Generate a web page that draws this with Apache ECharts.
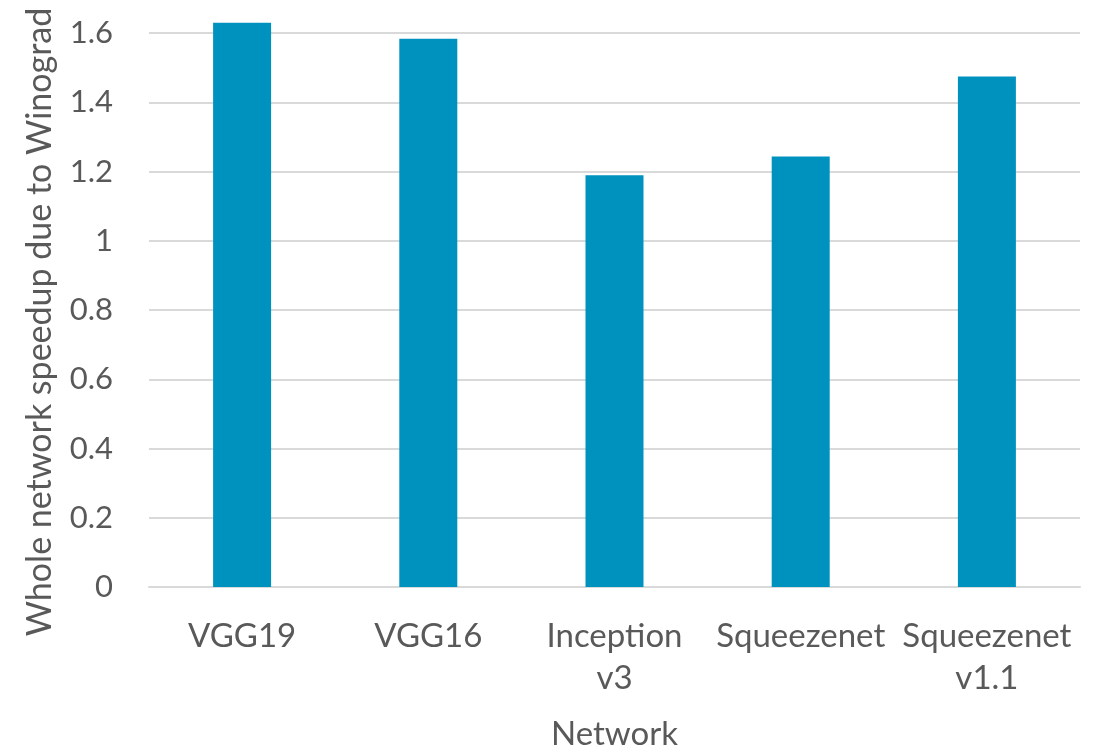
<!DOCTYPE html>
<html>
<head>
<meta charset="utf-8">
<script src="https://cdn.jsdelivr.net/npm/echarts@6/dist/echarts.min.js"></script>
<style>
  html, body { margin: 0; padding: 0; background: #ffffff; }
  #chart { width: 1104px; height: 748px; }
</style>
</head>
<body>
<div id="chart"></div>
<script>
// Networks on the category axis
const networks = ['VGG19', 'VGG16', 'Inception\nv3', 'Squeezenet', 'Squeezenet\nv1.1'];
// Whole-network speedup from Winograd convolution
const speedups = [1.63, 1.584, 1.19, 1.244, 1.475];

const FONT = 'Lato';
const TEXT = '#595959';

const chart = echarts.init(document.getElementById('chart'));
chart.setOption({
  animation: false,
  grid: { left: 149, right: 24, top: -36, bottom: 161, outerBoundsMode: 'none' },
  xAxis: {
    type: 'category',
    data: networks,
    axisLine: { lineStyle: { color: '#d9d9d9', width: 2 } },
    axisTick: { show: false },
    axisLabel: {
      color: TEXT, fontFamily: FONT, fontSize: 33, lineHeight: 42,
      margin: 28, interval: 0
    },
    name: 'Network',
    nameLocation: 'middle',
    nameGap: 131,
    nameTextStyle: { color: TEXT, fontFamily: FONT, fontSize: 33 }
  },
  yAxis: {
    type: 'value',
    min: 0, max: 1.8, interval: 0.2,
    axisLine: { show: false },
    axisTick: { show: false },
    splitLine: { lineStyle: { color: '#d9d9d9', width: 2 } },
    axisLabel: { color: TEXT, fontFamily: FONT, fontSize: 31, margin: 36 }
  },
  graphic: [{
    type: 'text',
    x: 40, y: 322,
    rotation: Math.PI / 2,
    style: {
      text: 'Whole network speedup due to Winograd',
      fill: TEXT, font: '34px ' + FONT,
      align: 'center', verticalAlign: 'middle'
    }
  }],
  series: [{
    type: 'bar',
    data: speedups,
    barWidth: 58,
    itemStyle: { color: '#0092bf' }
  }]
});
</script>
</body>
</html>
